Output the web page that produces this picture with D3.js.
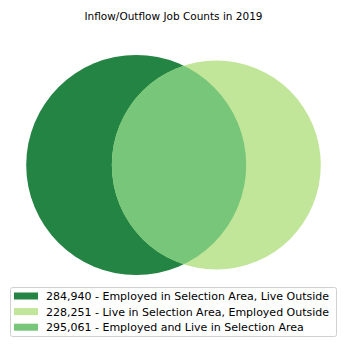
<!DOCTYPE html>
<html>
<head>
<meta charset="utf-8">
<script src="https://cdn.jsdelivr.net/npm/d3@7"></script>
<style>
  body { margin: 0; background: #fff; }
  text { font-family: "DejaVu Sans", sans-serif; fill: #000; }
</style>
</head>
<body>
<div id="venn"></div>
<script>
// job counts (regions of the venn)
const labels = [
  "Employed in Selection Area, Live Outside",
  "Live in Selection Area, Employed Outside",
  "Employed and Live in Selection Area"
];
const counts = [284940, 228251, 295061];
const colors = ["#238443", "#c2e699", "#78c679"];
const title = "Inflow/Outflow Job Counts in 2019";

const width = 347, height = 356;

const svg = d3.select("#venn")
  .append("svg")
    .attr("width", width)
    .attr("height", height);

// circle areas: each set = its own part + the shared part
const areaA = counts[0] + counts[2],
      areaB = counts[1] + counts[2];

const r = d3.scaleSqrt()
  .domain([0, areaA])
  .range([0, 110]);

const rA = r(areaA), rB = r(areaB);

// lens area for two circles at distance d
function lens(d, r1, r2) {
  if (d >= r1 + r2) return 0;
  if (d <= Math.abs(r1 - r2)) return Math.PI * Math.min(r1, r2) ** 2;
  const a = r1 * r1 * Math.acos((d * d + r1 * r1 - r2 * r2) / (2 * d * r1));
  const b = r2 * r2 * Math.acos((d * d + r2 * r2 - r1 * r1) / (2 * d * r2));
  const c = 0.5 * Math.sqrt((-d + r1 + r2) * (d + r1 - r2) * (d - r1 + r2) * (d + r1 + r2));
  return a + b - c;
}

// find the distance giving the right overlap (bisection)
const target = Math.PI * r(counts[2]) ** 2;
let lo = Math.abs(rA - rB), hi = rA + rB;
for (let i = 0; i < 60; i++) {
  const mid = (lo + hi) / 2;
  if (lens(mid, rA, rB) > target) lo = mid; else hi = mid;
}
const dist = (lo + hi) / 2;

// center the whole diagram horizontally
const left = width / 2 - (rA + dist + rB) / 2;
const cy = 165;
const cxA = left + rA, cxB = cxA + dist;

svg.append("defs").append("clipPath")
    .attr("id", "clipA")
  .append("circle")
    .attr("cx", cxA).attr("cy", cy).attr("r", rA);

svg.append("circle")
    .attr("cx", cxA).attr("cy", cy).attr("r", rA)
    .attr("fill", colors[0]);

svg.append("circle")
    .attr("cx", cxB).attr("cy", cy).attr("r", rB)
    .attr("fill", colors[1]);

svg.append("circle")
    .attr("cx", cxB).attr("cy", cy).attr("r", rB)
    .attr("clip-path", "url(#clipA)")
    .attr("fill", colors[2]);

svg.append("text")
    .attr("x", width / 2)
    .attr("y", 20)
    .attr("text-anchor", "middle")
    .style("font-size", "10.5px")
    .text(title);

// legend
const fmt = d3.format(",");
const legend = svg.append("g");

legend.append("rect")
    .attr("x", 10.5).attr("y", 287.5)
    .attr("width", 326).attr("height", 49)
    .attr("rx", 2)
    .attr("fill", "#fff")
    .attr("stroke", "#d0d0d0");

const rows = legend.selectAll("g.row")
  .data(counts)
  .join("g")
    .attr("class", "row")
    .attr("transform", (d, i) => `translate(14,${296 + i * 15.6})`);

rows.append("rect")
    .attr("x", 0).attr("y", -3.5)
    .attr("width", 24).attr("height", 7)
    .attr("fill", (d, i) => colors[i]);

rows.append("text")
    .attr("x", 32)
    .attr("y", 4)
    .style("font-size", "11px")
    .text((d, i) => `${fmt(d)} - ${labels[i]}`);
</script>
</body>
</html>
